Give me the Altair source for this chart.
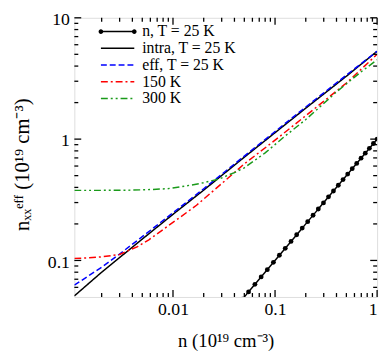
import altair as alt
import pandas as pd

# ---------------- data ----------------
series_names = ["n, T = 25 K", "intra, T = 25 K", "eff, T = 25 K", "150 K", "300 K"]
series_colors = ["#000000", "#000000", "#0000ff", "#ff0000", "#1a9a1a"]
series_dashes = [[1, 0], [1, 0], [6, 3], [7, 3, 2, 3], [7, 3, 2, 3, 2, 3]]

# n, T = 25 K  (n_xx = n, dots)
n_dots = [0.048, 0.055, 0.0635, 0.0731, 0.084, 0.0964, 0.1103, 0.1259, 0.1434,
          0.1629, 0.1847, 0.2089, 0.2358, 0.2655, 0.2981, 0.3342, 0.3736,
          0.4169, 0.464, 0.5152, 0.5706, 0.631, 0.696, 0.7656, 0.8404,
          0.9204, 1.0]

# intra, T = 25 K
intra_x = [0.00108, 0.002, 0.005, 0.01, 0.02, 0.05, 0.1, 0.2, 0.5, 1.0]
intra_y = [0.051, 0.08, 0.15, 0.24, 0.38, 0.71, 1.13, 1.8, 3.3, 5.3]

# eff, T = 25 K
eff_x = [0.00108, 0.0015, 0.002, 0.003, 0.005, 0.01, 0.02, 0.05, 0.1, 0.2, 0.5, 1.0]
eff_y = [0.0626, 0.075, 0.088, 0.113, 0.157, 0.247, 0.39, 0.725, 1.155, 1.84, 3.37, 5.3]

# 150 K
t150_x = [0.00108, 0.0015, 0.002, 0.003, 0.0036, 0.0045, 0.0058, 0.00875, 0.012,
          0.017, 0.03, 0.05, 0.1, 0.2, 0.5, 1.0]
t150_y = [0.104, 0.105, 0.107, 0.112, 0.12, 0.13, 0.148, 0.19, 0.23, 0.285,
          0.43, 0.625, 0.98, 1.56, 2.9, 5.0]

# 300 K
t300_x = [0.00108, 0.002, 0.004, 0.006, 0.00875, 0.012, 0.0183, 0.0285, 0.04,
          0.05, 0.08, 0.122, 0.2, 0.4, 0.7, 1.0]
t300_y = [0.378, 0.378, 0.38, 0.384, 0.39, 0.405, 0.43, 0.47, 0.53, 0.58,
          0.77, 1.04, 1.45, 2.45, 3.6, 4.5]

# axis ticks
x_major = [0.01, 0.1, 1]
x_minor = [0.002, 0.003, 0.004, 0.005, 0.006, 0.007, 0.008, 0.009,
           0.02, 0.03, 0.04, 0.05, 0.06, 0.07, 0.08, 0.09,
           0.2, 0.3, 0.4, 0.5, 0.6, 0.7, 0.8, 0.9]
y_major = [0.1, 1, 10]
y_minor = [0.06, 0.07, 0.08, 0.09,
           0.2, 0.3, 0.4, 0.5, 0.6, 0.7, 0.8, 0.9,
           2, 3, 4, 5, 6, 7, 8, 9]

x_domain = [0.00108, 1.0]
y_domain = [0.05, 10.0]

# ---------------- build tables ----------------
rows = []
for v in n_dots:
    rows.append({"series": series_names[0], "n": v, "val": v})
for name, xs, ys in [(series_names[1], intra_x, intra_y),
                     (series_names[2], eff_x, eff_y),
                     (series_names[3], t150_x, t150_y),
                     (series_names[4], t300_x, t300_y)]:
    for a, b in zip(xs, ys):
        rows.append({"series": name, "n": a, "val": b})
df = pd.DataFrame(rows)
dots_df = df[df["series"] == series_names[0]].rename(columns={"series": "dotseries"})

W, H = 308, 284
FONT = "Liberation Serif, Times New Roman, Times, serif"

xscale = alt.Scale(type="log", domain=x_domain, nice=False)
yscale = alt.Scale(type="log", domain=y_domain, nice=False)

LEG_X, LEG_Y = 36, 6
legend = alt.Legend(
    title=None, orient="none", legendX=LEG_X, legendY=LEG_Y, symbolType="M-3,0H3",
    symbolSize=128, symbolStrokeWidth=1.5, labelFont=FONT, labelFontSize=16,
    labelColor="black", labelOffset=17, rowPadding=1.0, padding=0,
)
# second legend: only the two end dots of the "n" sample, drawn over the first entry
dot_path = ("M-3.42,0a0.42,0.42 0 1,0 0.84,0a0.42,0.42 0 1,0 -0.84,0Z "
            "M2.58,0a0.42,0.42 0 1,0 0.84,0a0.42,0.42 0 1,0 -0.84,0Z")
dot_legend = alt.Legend(
    title=None, orient="none", legendX=LEG_X, legendY=LEG_Y, symbolType=dot_path,
    symbolSize=128, symbolStrokeWidth=0, symbolFillColor="black", labelFont=FONT,
    labelFontSize=16, labelOffset=17, rowPadding=1.0, padding=0, labelExpr="''",
)

lines = alt.Chart(df).mark_line(strokeWidth=1.5, clip=True).encode(
    x=alt.X("n:Q", scale=xscale,
            axis=alt.Axis(values=x_major, format="~g", ticks=False, domain=False, grid=False,
                          labelFont=FONT, labelFontSize=18, labelColor="black",
                          labelPadding=4, title="n (10¹⁹ cm⁻³)", titleFont=FONT,
                          titleFontSize=19, titleFontWeight="normal", titleColor="black",
                          titlePadding=13)),
    y=alt.Y("val:Q", scale=yscale,
            axis=alt.Axis(values=y_major, format="~g", ticks=False, domain=False, grid=False,
                          labelFont=FONT, labelFontSize=18, labelColor="black",
                          labelPadding=5, labelOffset=2, title="nₓₓᵉᶠᶠ (10¹⁹ cm⁻³)",
                          titleFont=FONT, titleFontSize=21, titleFontWeight="normal",
                          titleColor="black", titleX=-43, titleY=149, titleAngle=-90,
                          titleAlign="center", titleBaseline="bottom")),
    color=alt.Color("series:N", scale=alt.Scale(domain=series_names, range=series_colors),
                    legend=legend),
    strokeDash=alt.StrokeDash("series:N", scale=alt.Scale(domain=series_names, range=series_dashes),
                              legend=legend),
    order=alt.Order("n:Q"),
)

dots = alt.Chart(dots_df).mark_circle(size=24, opacity=1, clip=True).encode(
    x=alt.X("n:Q", scale=xscale),
    y=alt.Y("val:Q", scale=yscale),
    fill=alt.Fill("dotseries:N", scale=alt.Scale(domain=[series_names[0]], range=["black"]),
                  legend=dot_legend),
)

xmaj = pd.DataFrame({"t": x_major})
xmin = pd.DataFrame({"t": x_minor})
ymaj = pd.DataFrame({"t": y_major})
ymin = pd.DataFrame({"t": y_minor})

def xticks(d, ln):
    bot = alt.Chart(d).mark_rule(color="black", strokeWidth=1.3).encode(
        x=alt.X("t:Q", scale=xscale), y=alt.value(H), y2=alt.value(H - ln))
    top = alt.Chart(d).mark_rule(color="black", strokeWidth=1.3).encode(
        x=alt.X("t:Q", scale=xscale), y=alt.value(0), y2=alt.value(ln))
    return [bot, top]

def yticks(d, ln):
    left = alt.Chart(d).mark_rule(color="black", strokeWidth=1.3).encode(
        y=alt.Y("t:Q", scale=yscale), x=alt.value(0), x2=alt.value(ln))
    right = alt.Chart(d).mark_rule(color="black", strokeWidth=1.3).encode(
        y=alt.Y("t:Q", scale=yscale), x=alt.value(W), x2=alt.value(W - ln))
    return [left, right]

tick_layers = xticks(xmaj, 7) + xticks(xmin, 4) + yticks(ymaj, 7) + yticks(ymin, 4)

chart = alt.layer(lines, dots, *tick_layers).properties(
    width=W, height=H,
    autosize="none",
    padding={"left": 67.5, "top": 7, "right": 6, "bottom": 52},
).configure_view(
    stroke="black", strokeWidth=1.6
).configure(
    font=FONT, background="white"
)

chart.save("out.html", embed_options={"renderer": "svg", "actions": False})
